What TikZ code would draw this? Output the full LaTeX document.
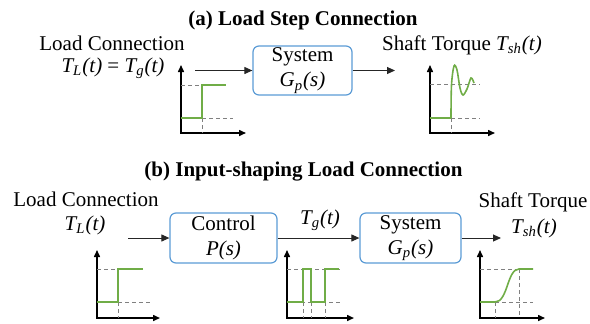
\documentclass[tikz,border=0pt]{standalone}
\usepackage{fontspec}
\setmainfont{Liberation Serif}
\usetikzlibrary{arrows.meta}
\definecolor{boxblue}{RGB}{91,155,213}
\definecolor{stepgreen}{RGB}{112,173,71}
\newcommand{\sig}[3]{\textit{#1\textsubscript{#2}(#3)}}

\begin{document}
\begin{tikzpicture}[x=0.5pt, y=-0.5pt,
    every node/.style={inner sep=0pt, font=\fontsize{10.5}{12.5}\selectfont},
    block/.style={draw=boxblue, line width=0.6pt, rounded corners=3pt, align=center,
                  font=\rmfamily\fontsize{10.5}{12.5}\selectfont},
    link/.style={-{Triangle[length=4pt,width=3.5pt]}, line width=0.5pt, black!85},
    axes/.style={{Triangle[length=3.5pt,width=3pt]}-{Triangle[length=3.5pt,width=3pt]}, line width=0.75pt},
    level/.style={gray, line width=0.5pt, dash pattern=on 2pt off 1.5pt},
    trace/.style={stepgreen, line width=0.8pt}]
   \useasboundingbox (0,0) rectangle (590,323);

   % (a) load step
   \node[font=\fontsize{10.5}{12.5}\selectfont\bfseries] (TA) at (303,20) {(a) Load Step Connection};
   \node (LA)  at (112,43) {Load Connection};
   \node (LA2) at (113,68) {\sig{T}{L}{t} = \sig{T}{g}{t}};
   \node[block, minimum width=49.5pt, minimum height=24.5pt] (SysA) at (302.5,70.5) {System\\\sig{G}{p}{s}};
   \node (OA)  at (462,45) {Shaft Torque \sig{T}{sh}{t}};
   \coordinate (InA)  at (195,70.5);
   \coordinate (OutA) at (395,70.5);
   \draw[link] (InA) to (SysA);
   \draw[link] (SysA) to (OutA);

   \draw[axes] (181,65) -- (181,133) -- (246,133);
   \draw[level] (181,85) -- (202,85);
   \draw[level] (202,118) -- (233,118);
   \draw[level] (202,118) -- (202,133);
   \draw[trace] (181,118) -- (202,118) -- (202,85) -- (226,85);

   \draw[axes] (430,65) -- (430,133) -- (495,133);
   \draw[level] (430,84) -- (480,84);
   \draw[level] (451,118) -- (480,118);
   \draw[level] (451,118) -- (451,133);
   \draw[trace] (430,118) -- (451,118)
      plot[smooth, tension=0.55] coordinates {(451,118) (451.5,85) (454,66) (457,70) (460,88) (463,95) (467,89) (471,78) (474,83)};

   % (b) input shaping
   \node[font=\fontsize{10.5}{12.5}\selectfont\bfseries] (TB) at (303.5,172) {(b) Input-shaping Load Connection};
   \node (LB)  at (86,199) {Load Connection};
   \node (LB2) at (85,225) {\sig{T}{L}{t}};
   \node[block, minimum width=53.5pt, minimum height=25pt] (Ctrl) at (223.5,238) {Control\\\textit{P(s)}};
   \node[block, minimum width=50.5pt, minimum height=25pt] (SysB) at (410.5,238) {System\\\sig{G}{p}{s}};
   \node (TG)  at (320,220) {\sig{T}{g}{t}};
   \node (OB)  at (533,202) {Shaft Torque};
   \node (OB2) at (534,228) {\sig{T}{sh}{t}};
   \coordinate (InB)  at (128,238);
   \coordinate (OutB) at (501,238);
   \draw[link] (InB) to (Ctrl);
   \draw[link] (Ctrl) to (SysB);
   \draw[link] (SysB) to (OutB);

   \draw[axes] (97,250) -- (97,318) -- (160,318);
   \draw[level] (97,269) -- (118,269);
   \draw[level] (118,302) -- (150,302);
   \draw[level] (118,302) -- (118,318);
   \draw[trace] (97,302) -- (118,302) -- (118,269) -- (143,269);

   \draw[axes] (287,250) -- (287,318) -- (354,318);
   \draw[level] (287,269) -- (342,269);
   \draw[level] (287,302) -- (342,302);
   \foreach \x in {303,311,325}
      \draw[level] (\x,302) -- (\x,318);
   \draw[trace] (287,302) -- (303,302) -- (303,269) -- (311,269) -- (311,302)
      -- (325,302) -- (325,269) -- (339,269);

   \draw[axes] (480,250) -- (480,318) -- (545,318);
   \draw[level] (480,269) -- (519,269);
   \draw[level] (495,302) -- (533,302);
   \draw[level] (495,302) -- (495,318);
   \draw[level] (519,269) -- (519,318);
   \draw[trace] (480,302) -- (495,302) .. controls (508,302) and (507,269) .. (519,269) -- (533,269);
 \end{tikzpicture}
\end{document}
